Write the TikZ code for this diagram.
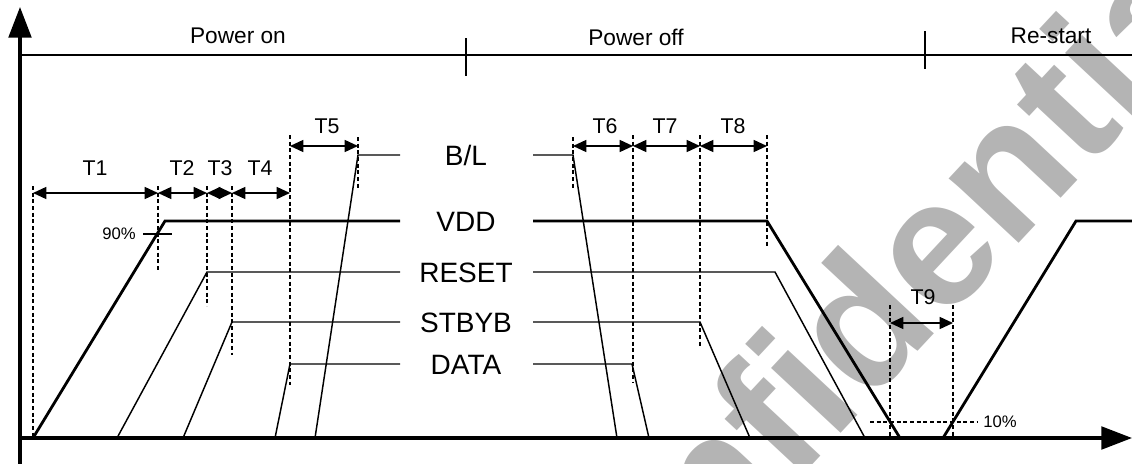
\documentclass[tikz,border=0pt]{standalone}
\usepackage{fontspec}
\setmainfont{Liberation Sans}
\usetikzlibrary{arrows.meta}
\definecolor{wmgray}{RGB}{180,180,180}

\begin{document}
\begin{tikzpicture}[x=0.75pt,y=-0.75pt,
  sigln/.style={line width=1.1pt},
  vddln/.style={line width=2.1pt},
  axisln/.style={line width=2.4pt},
  barln/.style={line width=1.5pt},
  dashln/.style={line width=1.1pt, dash pattern=on 3pt off 2pt},
  tspan/.style={line width=1.1pt, {Triangle[length=10pt,width=9pt]}-{Triangle[length=10pt,width=9pt]}},
  siglbl/.style={font=\fontsize{21}{21}\selectfont, text height=15pt, text depth=0pt, inner sep=0pt},
  tlbl/.style={font=\fontsize{16}{16}\selectfont, text height=11.5pt, text depth=0pt, inner sep=0pt},
  phlbl/.style={font=\fontsize{17}{17}\selectfont, text height=12.2pt, text depth=0pt, inner sep=0pt},
  pctlbl/.style={font=\fontsize{12.5}{12.5}\selectfont, text height=9pt, text depth=0pt, inner sep=0pt}]
\useasboundingbox (0,0) rectangle (1132,464);
% watermark
\begin{scope}
\clip (0,0) rectangle (1132,464);
\node (wm) [rotate=47, text=wmgray, font=\fontsize{135}{135}\selectfont\bfseries] at (861,318) {Confidential};
\end{scope}
% phase bar
\draw[barln] (20,55) -- (1132,55);
\draw[barln] (466,38) -- (466,76);
\draw[barln] (925,31) -- (925,69);
\node (pon) [phlbl] at (238,35) {Power on};
\node (poff) [phlbl] at (636,37) {Power off};
\node (prs) [phlbl] at (1051,35) {Re-start};
% axes
\draw[axisln, -{Triangle[length=23pt,width=17pt]}] (20,464) -- (20,7);
\draw[axisln, -{Triangle[length=23pt,width=17pt]}] (20,438) -- (1132,438);
% guides
\draw[dashln] (33,186) -- (33,438);
\draw[dashln] (158,186) -- (158,270);
\draw[dashln] (207,186) -- (207,306);
\draw[dashln] (232,186) -- (232,355);
\draw[dashln] (290,135) -- (290,385);
\draw[dashln] (358,137) -- (358,190);
\draw[dashln] (573,137) -- (573,190);
\draw[dashln] (633,135) -- (633,383);
\draw[dashln] (700,135) -- (700,347);
\draw[dashln] (767,135) -- (767,247);
\draw[dashln] (890,305) -- (890,438);
\draw[dashln] (953,305) -- (953,438);
\draw[dashln] (870,422) -- (977,422);
\draw[sigln] (143,234) -- (172,234);
\node (p90) [pctlbl, anchor=east] at (136,233) {90\%};
\node (p10) [pctlbl, anchor=west] at (983,421) {10\%};
% waveforms
\draw[vddln] (33,438) -- (165,221) -- (400,221);
\draw[vddln] (533,221) -- (767,221) -- (900,438);
\draw[vddln] (943,438) -- (1076,221) -- (1132,221);
\draw[sigln] (117,438) -- (207,272) -- (400,272);
\draw[sigln] (533,272) -- (775,272) -- (865,438);
\draw[sigln] (183,438) -- (232,322) -- (400,322);
\draw[sigln] (533,322) -- (700,322) -- (750,438);
\draw[sigln] (275,438) -- (290,364) -- (400,364);
\draw[sigln] (533,364) -- (632,364) -- (649,438);
\draw[sigln] (315,438) -- (358,155) -- (400,155);
\draw[sigln] (533,155) -- (573,155) -- (617,438);
\node (bl) [siglbl] at (466,155) {B/L};
\node (vdd) [siglbl] at (466,221) {VDD};
\node (rst) [siglbl] at (466,272) {RESET};
\node (stb) [siglbl] at (466,322) {STBYB};
\node (dat) [siglbl] at (466,364) {DATA};
% timing spans
\coordinate (a0) at (33,193);
\coordinate (a1) at (158,193);
\coordinate (a2) at (207,193);
\coordinate (a3) at (232,193);
\coordinate (a4) at (290,193);
\coordinate (b0) at (290,146);
\coordinate (b1) at (358,146);
\coordinate (c0) at (573,146);
\coordinate (c1) at (633,146);
\coordinate (c2) at (700,146);
\coordinate (c3) at (767,146);
\coordinate (d0) at (890,323);
\coordinate (d1) at (953,323);
\draw[tspan] (a0) -- (a1);
\draw[tspan] (a1) -- (a2);
\draw[tspan] (a2) -- (a3);
\draw[tspan] (a3) -- (a4);
\draw[tspan] (b0) -- (b1);
\draw[tspan] (c0) -- (c1);
\draw[tspan] (c1) -- (c2);
\draw[tspan] (c2) -- (c3);
\draw[tspan] (d0) -- (d1);
\node (t1) [tlbl] at (95,168) {T1};
\node (t2) [tlbl] at (182,168) {T2};
\node (t3) [tlbl] at (220,168) {T3};
\node (t4) [tlbl] at (260,168) {T4};
\node (t5) [tlbl] at (327,126) {T5};
\node (t6) [tlbl] at (605,126) {T6};
\node (t7) [tlbl] at (665,126) {T7};
\node (t8) [tlbl] at (733,126) {T8};
\node (t9) [tlbl] at (923,297) {T9};
\end{tikzpicture}
\end{document}
